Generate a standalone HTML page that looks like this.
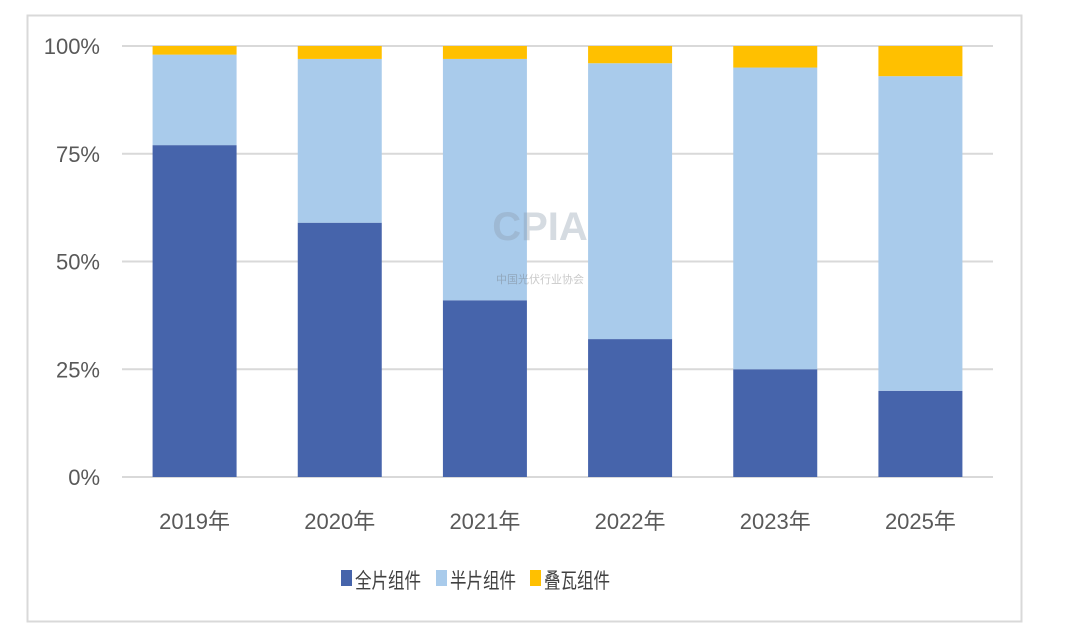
<!DOCTYPE html>
<html><head><meta charset="utf-8"><style>
body{margin:0;background:#fff;width:1080px;height:642px;overflow:hidden}
svg{display:block;font-family:"Liberation Sans","Noto Sans CJK SC",sans-serif}
</style></head><body>
<svg id="c" width="1080" height="642">
<rect x="27.5" y="15.5" width="994" height="606" fill="#fff" stroke="#d9d9d9" stroke-width="2"/>
<g id="grid"></g><g id="bars"></g><g id="xl"></g>
<g opacity="0.35">
<text x="540" y="240" text-anchor="middle" font-size="40" font-weight="bold" fill="#8a99aa">CPIA</text>
<text x="540" y="283" text-anchor="middle" font-size="11" fill="#666">中国光伏行业协会</text>
</g>
<g>
<rect x="341" y="570" width="11" height="16" fill="#4664ab"/>
<text x="355" y="588" font-size="21" textLength="66" lengthAdjust="spacingAndGlyphs" fill="#404040">全片组件</text>
<rect x="436" y="570" width="11" height="16" fill="#a9cbeb"/>
<text x="450" y="588" font-size="21" textLength="66" lengthAdjust="spacingAndGlyphs" fill="#404040">半片组件</text>
<rect x="530" y="570" width="11" height="16" fill="#ffc000"/>
<text x="544" y="588" font-size="21" textLength="66" lengthAdjust="spacingAndGlyphs" fill="#404040">叠瓦组件</text>
</g>
</svg>
<script>
const categories=["2019年","2020年","2021年","2022年","2023年","2025年"];
const fullPiece=[77,59,41,32,25,20];
const halfPiece=[21,38,56,64,70,73];
const shingled=[2,3,3,4,5,7];
const yTicks=[0,25,50,75,100];
const yTickLabels=["0%","25%","50%","75%","100%"];
const NS="http://www.w3.org/2000/svg";
const y0=477,y1=46,x0=122,x1=993,bw=84;
const band=(x1-x0)/categories.length;
function y(v){return y0-(v/100)*(y0-y1);}
function xc(i){return x0+band*(i+0.5);}
function mk(t,a,p){const e=document.createElementNS(NS,t);for(const k in a)e.setAttribute(k,a[k]);p.appendChild(e);return e;}
const G=document.getElementById('grid'),B=document.getElementById('bars'),X=document.getElementById('xl');
yTicks.forEach((v,i)=>{
 const l=mk('line',{x1:x0,x2:x1,y1:y(v),y2:y(v),stroke:'#d9d9d9','stroke-width':2},G);
 
 
 const t=mk('text',{x:100,y:y(v)+8,'text-anchor':'end','font-size':22,fill:'#595959'},G);
 t.textContent=yTickLabels[i];
 
 
});
const series=[[fullPiece,'#4664ab','full'],[halfPiece,'#a9cbeb','half'],[shingled,'#ffc000','shingled']];
categories.forEach((c,i)=>{
 let acc=0;
 series.forEach(([arr,col,nm])=>{
  const v=arr[i];
  const r=mk('rect',{x:xc(i)-bw/2,y:y(acc+v),width:bw,height:y(acc)-y(acc+v),fill:col},B);
  
  
  acc+=v;
 });
 const t=mk('text',{x:xc(i),y:529,'text-anchor':'middle','font-size':22,fill:'#595959'},X);
 t.textContent=c;
 
 
});
</script>
</body></html>
